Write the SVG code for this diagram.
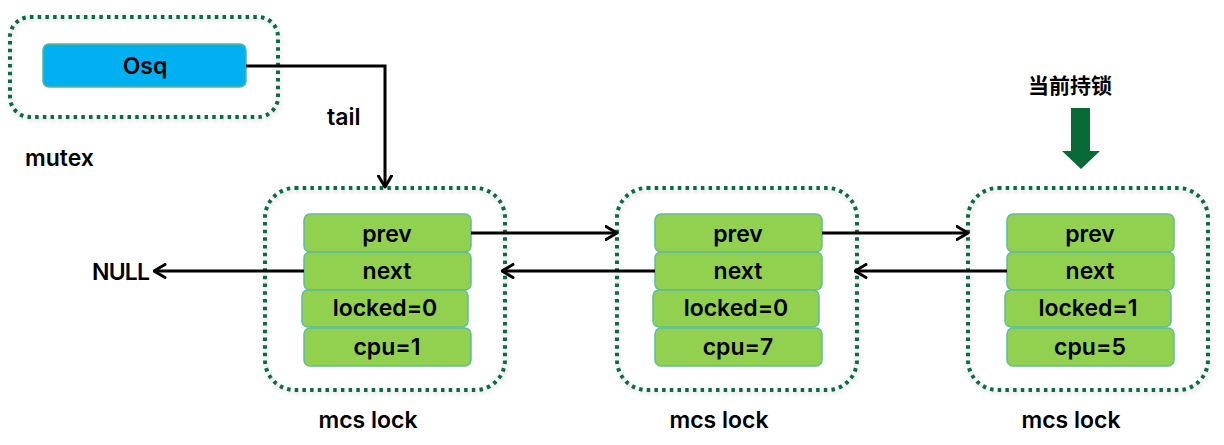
<svg xmlns="http://www.w3.org/2000/svg" width="1224" height="445" viewBox="0 0 1224 445">
<defs>
<style>
.grp{fill:none;stroke:#0B6B45;stroke-width:4;stroke-dasharray:3.5 4.2;filter:url(#sh)}
.fld{fill:#92D050;stroke:#5CBF9B;stroke-width:1.5}
.t{font-family:Inter,"Liberation Sans",Arial,sans-serif;font-size:23px;font-weight:600;fill:#000;text-anchor:middle}
.lbl{font-family:Inter,"Liberation Sans",Arial,sans-serif;font-size:23px;font-weight:600;fill:#000}
.ln{fill:none;stroke:#000;stroke-width:3}
</style>
<filter id="sh" x="-10%" y="-10%" width="120%" height="120%">
<feDropShadow dx="1" dy="2" stdDeviation="2" flood-color="#000" flood-opacity="0.18"/>
</filter>
<marker id="ah" viewBox="0 0 14 16" refX="12.5" refY="8" markerWidth="14" markerHeight="16" markerUnits="userSpaceOnUse" orient="auto">
<path d="M1.5,1.5 L12.5,8 L1.5,14.5" fill="none" stroke="#000" stroke-width="3" stroke-linecap="round" stroke-linejoin="round"/>
</marker>
</defs>
<rect width="1224" height="445" fill="#fff"/>

<g id="mutex">
<rect class="grp" x="10" y="17" width="268" height="100" rx="20"/>
<rect x="43" y="44" width="203" height="43" rx="6" fill="#00B0F0" stroke="#5BB58E" stroke-width="1.5"/>
<text class="t" x="145" y="74">Osq</text>
<text class="lbl" x="25" y="166">mutex</text>
</g>

<g id="node1">
<rect class="grp" x="265" y="188" width="240" height="202" rx="30"/>
<rect class="fld" x="304" y="214" width="167" height="38" rx="6"/>
<text class="t" x="387" y="242">prev</text>
<rect class="fld" x="304" y="252" width="167" height="38" rx="6"/>
<text class="t" x="387" y="279">next</text>
<rect class="fld" x="302" y="290" width="166" height="37" rx="6"/>
<text class="t" x="385" y="316">locked=0</text>
<rect class="fld" x="304" y="328" width="167" height="38" rx="6"/>
<text class="t" x="387" y="355">cpu=1</text>
<text class="t" x="368" y="428">mcs lock</text>
</g>

<g id="node2">
<rect class="grp" x="617" y="188" width="240" height="202" rx="30"/>
<rect class="fld" x="655" y="214" width="167" height="38" rx="6"/>
<text class="t" x="738" y="242">prev</text>
<rect class="fld" x="655" y="252" width="167" height="38" rx="6"/>
<text class="t" x="738" y="279">next</text>
<rect class="fld" x="653" y="290" width="166" height="37" rx="6"/>
<text class="t" x="736" y="316">locked=0</text>
<rect class="fld" x="655" y="328" width="167" height="38" rx="6"/>
<text class="t" x="738" y="355">cpu=7</text>
<text class="t" x="719" y="428">mcs lock</text>
</g>

<g id="node3">
<rect class="grp" x="968" y="188" width="240" height="202" rx="30"/>
<rect class="fld" x="1007" y="214" width="167" height="38" rx="6"/>
<text class="t" x="1090" y="242">prev</text>
<rect class="fld" x="1007" y="252" width="167" height="38" rx="6"/>
<text class="t" x="1090" y="279">next</text>
<rect class="fld" x="1005" y="290" width="166" height="37" rx="6"/>
<text class="t" x="1088" y="316">locked=1</text>
<rect class="fld" x="1007" y="328" width="167" height="38" rx="6"/>
<text class="t" x="1090" y="355">cpu=5</text>
<text class="t" x="1071" y="428">mcs lock</text>
</g>

<g id="holder">
<text x="1070" y="93" text-anchor="middle" font-family="'Noto Sans CJK SC',sans-serif" font-size="21" font-weight="bold" fill="#000">当前持锁</text>
<path d="M1071,108 H1090 V151 H1100 L1081,169 L1062,151 H1071 Z" fill="#086A36"/>
</g>

<g id="null">
<text class="lbl" x="92" y="280" letter-spacing="-0.8">NULL</text>
</g>

<g id="connectors">
<path class="ln" d="M246,66 H385 V187" marker-end="url(#ah)"/>
<text class="lbl" x="327" y="125">tail</text>
<path class="ln" d="M304,271 H154" marker-end="url(#ah)"/>
<path class="ln" d="M471,233 H617" marker-end="url(#ah)"/>
<path class="ln" d="M655,271 H502" marker-end="url(#ah)"/>
<path class="ln" d="M822,233 H968" marker-end="url(#ah)"/>
<path class="ln" d="M1007,271 H855" marker-end="url(#ah)"/>
</g>
</svg>
